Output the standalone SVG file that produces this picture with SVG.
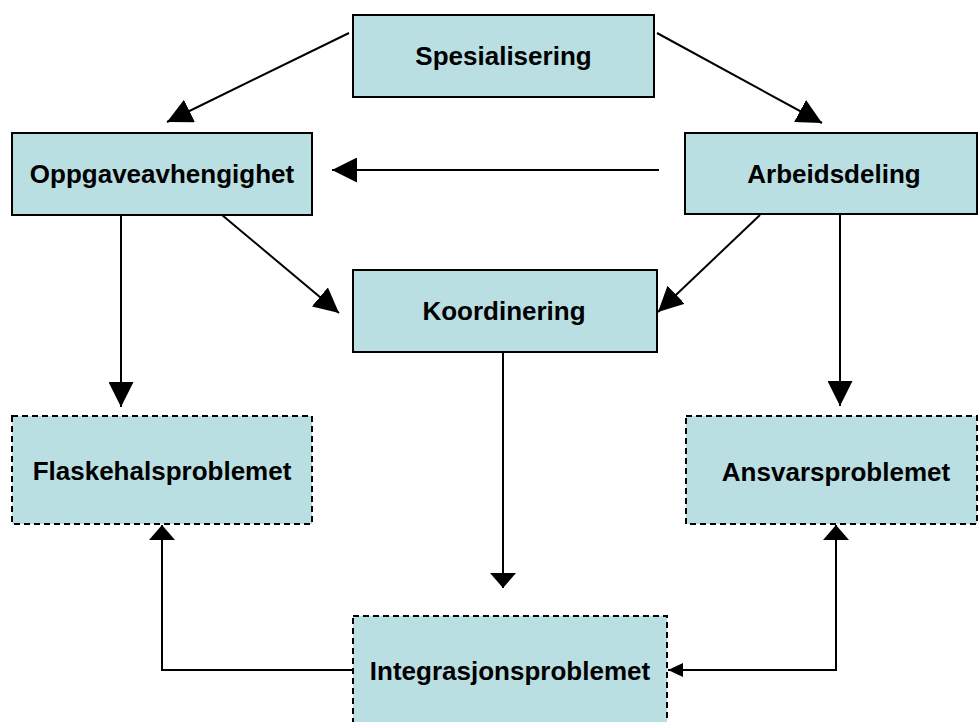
<svg xmlns="http://www.w3.org/2000/svg" width="978" height="722" viewBox="0 0 978 722">
<style>
.box{fill:#B9DFE3;stroke:#000;stroke-width:2}
.dash{stroke-dasharray:6,4}
.lbl{font-family:"Liberation Sans",Arial,sans-serif;font-weight:bold;font-size:26px;fill:#000;text-anchor:middle}
.c{fill:none;stroke:#000;stroke-width:2}
</style>
<defs>
<marker id="big" markerUnits="userSpaceOnUse" viewBox="0 0 25 25" refX="25" refY="12.5" markerWidth="25" markerHeight="25" orient="auto"><path d="M0,0 L25,12.5 L0,25 Z" fill="#000"/></marker>
<marker id="short" markerUnits="userSpaceOnUse" viewBox="0 0 15 26" refX="15" refY="13" markerWidth="15" markerHeight="26" orient="auto"><path d="M0,0 L15,13 L0,26 Z" fill="#000"/></marker>
<marker id="small" markerUnits="userSpaceOnUse" viewBox="0 0 15 14" refX="15" refY="7" markerWidth="15" markerHeight="14" orient="auto"><path d="M0,0 L15,7 L0,14 Z" fill="#000"/></marker>
</defs>
<g id="connectors">
<line class="c" x1="349" y1="33" x2="167" y2="122" marker-end="url(#big)"/>
<line class="c" x1="657" y1="33" x2="822" y2="123" marker-end="url(#big)"/>
<line class="c" x1="659" y1="170" x2="332" y2="170" marker-end="url(#big)"/>
<line class="c" x1="222" y1="215" x2="339" y2="313" marker-end="url(#big)"/>
<line class="c" x1="760" y1="215" x2="658" y2="312" marker-end="url(#big)"/>
<line class="c" x1="121" y1="215" x2="121" y2="407" marker-end="url(#big)"/>
<line class="c" x1="840" y1="214" x2="840" y2="406" marker-end="url(#big)"/>
<line class="c" x1="503" y1="352" x2="503" y2="588" marker-end="url(#short)"/>
<polyline class="c" points="353,670 162,670 162,525" marker-end="url(#short)"/>
<polyline class="c" points="836,670 836,525" marker-end="url(#short)"/>
<line class="c" x1="837" y1="670" x2="668" y2="670" marker-end="url(#small)"/>
</g>
<g id="spesialisering"><rect class="box" x="353" y="15" width="301" height="82"/><text class="lbl" x="503.5" y="65">Spesialisering</text></g>
<g id="oppgaveavhengighet"><rect class="box" x="12" y="133" width="300" height="82"/><text class="lbl" x="162" y="183">Oppgaveavhengighet</text></g>
<g id="arbeidsdeling"><rect class="box" x="685" y="133" width="292" height="81"/><text class="lbl" x="834" y="183">Arbeidsdeling</text></g>
<g id="koordinering"><rect class="box" x="353" y="270" width="304" height="82"/><text class="lbl" x="504" y="320">Koordinering</text></g>
<g id="flaskehalsproblemet"><rect class="box dash" x="12" y="416" width="300" height="108"/><text class="lbl" x="162" y="480">Flaskehalsproblemet</text></g>
<g id="ansvarsproblemet"><rect class="box dash" x="686" y="416" width="291" height="108"/><text class="lbl" x="836" y="481">Ansvarsproblemet</text></g>
<g id="integrasjonsproblemet"><rect class="box dash" x="353" y="616" width="314" height="120"/><text class="lbl" x="510" y="680">Integrasjonsproblemet</text></g>
</svg>
